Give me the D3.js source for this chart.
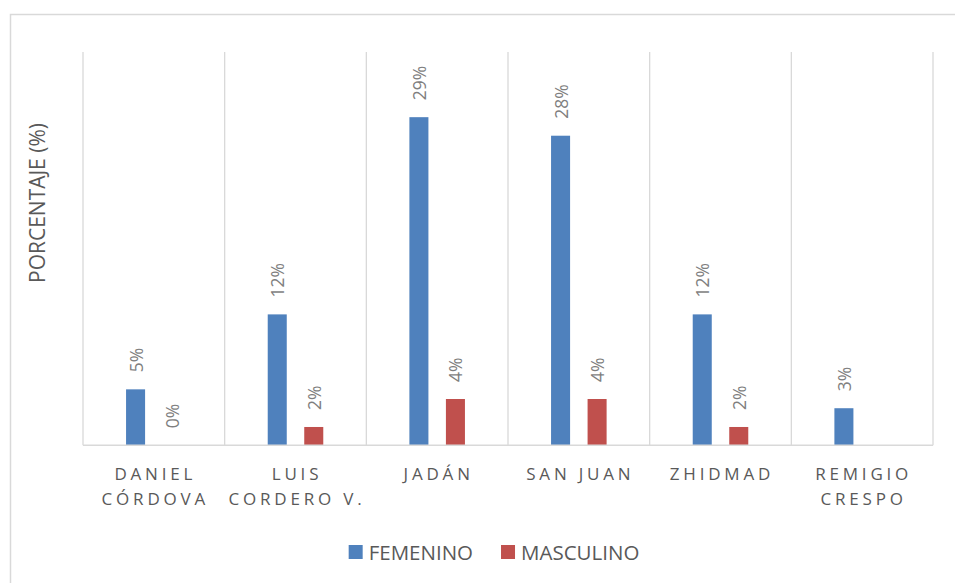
<!DOCTYPE html>
<html>
<head>
<meta charset="utf-8">
<script src="https://cdn.jsdelivr.net/npm/d3@7"></script>
<style>
  body { margin: 0; background: #fff; }
  svg { display: block; font-family: "Open Sans", sans-serif; }
</style>
</head>
<body>
<svg id="chart"></svg>
<script>
const WIDTH = 955
const HEIGHT = 583

// data (fractions, labels are rounded to whole %)
const categories = [["DANIEL", "CÓRDOVA"], ["LUIS", "CORDERO V."], ["JADÁN"], ["SAN JUAN"], ["ZHIDMAD"], ["REMIGIO", "CRESPO"]]
const seriesNames = ["FEMENINO", "MASCULINO"]
const femenino = [0.0498, 0.1165, 0.292, 0.2755, 0.1165, 0.033]
const masculino = [0, 0.0163, 0.0412, 0.0412, 0.0163, null]
const colours = ["#4f81bd", "#c0504d"]

const plot = { left: 83, right: 933, top: 52, bottom: 445.3 }

let svg = d3.select("#chart")
  .attr("width", WIDTH)
  .attr("height", HEIGHT)

// outer chart border (runs off the right and bottom of the picture)
svg.append("rect")
  .attr("x", 10.5)
  .attr("y", 14.5)
  .attr("width", 1000)
  .attr("height", 1000)
  .attr("fill", "none")
  .attr("stroke", "#d9d9d9")
  .attr("stroke-width", 1.5)

let keys = categories.map(c => c.join(" "))

let x = d3.scaleBand()
  .domain(keys)
  .range([plot.left, plot.right])

let xInner = d3.scaleBand()
  .domain(seriesNames)
  .range([0, x.bandwidth()])
  .paddingInner(0.479)
  .paddingOuter(1.179)

let y = d3.scaleLinear()
  .domain([0, 0.35])
  .range([plot.bottom, plot.top])

// vertical category dividers
let dividers = keys.map(k => x(k)).concat([plot.right])
svg.append("g")
  .selectAll("line")
  .data(dividers)
  .enter()
  .append("line")
  .attr("x1", d => d)
  .attr("x2", d => d)
  .attr("y1", plot.top)
  .attr("y2", plot.bottom)
  .attr("stroke", "#d9d9d9")
  .attr("stroke-width", 1.3)

let rows = []
keys.forEach((k, i) => {
  rows.push({ cat: k, series: seriesNames[0], value: femenino[i], colour: colours[0] })
  rows.push({ cat: k, series: seriesNames[1], value: masculino[i], colour: colours[1] })
})
let shown = rows.filter(r => r.value !== null)

svg.append("g")
  .selectAll("rect")
  .data(shown)
  .enter()
  .append("rect")
  .attr("x", d => x(d.cat) + xInner(d.series))
  .attr("y", d => y(d.value))
  .attr("width", xInner.bandwidth())
  .attr("height", d => y(0) - y(d.value))
  .attr("fill", d => d.colour)

// baseline
svg.append("line")
  .attr("x1", plot.left)
  .attr("x2", plot.right)
  .attr("y1", plot.bottom)
  .attr("y2", plot.bottom)
  .attr("stroke", "#d9d9d9")
  .attr("stroke-width", 1.5)

// rotated data labels
svg.append("g")
  .selectAll("text")
  .data(shown)
  .enter()
  .append("text")
  .attr("transform", d => {
    let cx = x(d.cat) + xInner(d.series) + xInner.bandwidth() / 2
    return `translate(${cx}, ${y(d.value) - 17}) rotate(-90)`
  })
  .attr("dominant-baseline", "central")
  .attr("text-anchor", "start")
  .style("font-size", "17.5px")
  .style("fill", "#7f7f7f")
  .text(d => d3.format(".0%")(d.value))

// category labels
let catLabel = svg.append("g")
  .selectAll("text")
  .data(categories)
  .enter()
  .append("text")
  .attr("text-anchor", "middle")
  .style("font-size", "17px")
  .style("letter-spacing", "3.8px")
  .style("fill", "#595959")

catLabel.selectAll("tspan")
  .data((d, i) => d.map(line => ({ line, key: keys[i] })))
  .enter()
  .append("tspan")
  .attr("x", d => x(d.key) + x.bandwidth() / 2 + 1.5)
  .attr("y", (d, j) => 479.5 + j * 25.5)
  .text(d => d.line)

// y axis title
svg.append("text")
  .attr("transform", "translate(45, 203) rotate(-90)")
  .attr("text-anchor", "middle")
  .style("font-size", "21px")
  .style("fill", "#595959")
  .text("PORCENTAJE (%)")

// legend
let legend = svg.append("g")
let legendX = 0
seriesNames.forEach((name, i) => {
  let item = legend.append("g")
    .attr("transform", `translate(${legendX}, 0)`)
  item.append("rect")
    .attr("x", 0)
    .attr("y", 545)
    .attr("width", 14)
    .attr("height", 14)
    .attr("fill", colours[i])
  let label = item.append("text")
    .attr("x", 20)
    .attr("y", 559.5)
    .style("font-size", "20.5px")
    .style("fill", "#595959")
    .text(name)
  legendX += 20 + label.node().getComputedTextLength() + 28
})
let legendWidth = legendX - 28
legend.attr("transform", `translate(${494 - legendWidth / 2}, 0)`)
</script>
</body>
</html>
